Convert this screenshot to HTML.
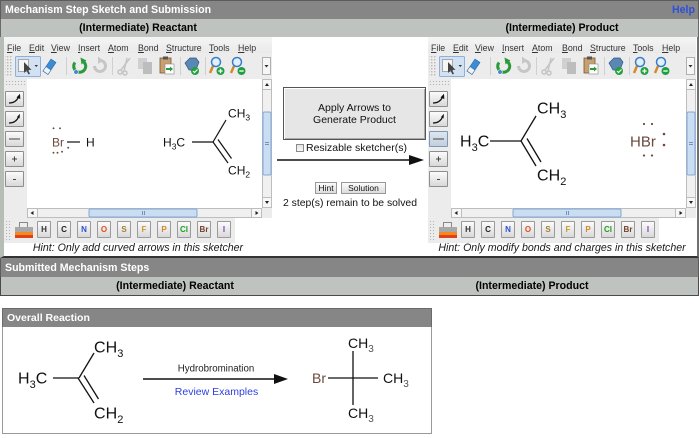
<!DOCTYPE html>
<html><head><meta charset="utf-8">
<style>
*{margin:0;padding:0;box-sizing:border-box}
html,body{width:699px;height:438px;overflow:hidden;background:#fff}
body{position:relative;font-family:"Liberation Sans",Arial,sans-serif}
.a{position:absolute}
.hd{position:absolute;background:#868686;color:#fff;font-weight:bold;font-size:10.6px;line-height:18px;white-space:nowrap;padding-left:4px}
.lr{position:absolute;background:#bec3c0}
.bt{position:absolute;font-weight:bold;font-size:10.6px;line-height:18px;text-align:center;white-space:nowrap;color:#000}
.sk{position:absolute;top:37px;width:268px;height:206px}
.mb{position:absolute;left:0;top:0;width:268px;height:16px;background:linear-gradient(#f5f5f5,#e9e9e9)}
.mb span{position:absolute;top:6px;font-size:8.8px;line-height:10px;color:#333;white-space:nowrap}
.tbb{position:absolute;left:0;top:16px;width:268px;height:26px;background:#ececec}
.lc{position:absolute;left:0;top:42px;width:23px;height:139px;background:#ececec}
.lb{position:absolute;left:1px;width:19px;height:16px;border:1px solid #8e8e8e;background:linear-gradient(#fbfbfb,#d8d8d8);border-radius:1px}
.lb svg{position:absolute;left:0;top:0}
.cv{position:absolute;left:23px;top:42px;width:235px;height:129px;background:#fff}
.cor{position:absolute;left:258px;top:171px;width:10px;height:10px;background:#ececec}
.pal{position:absolute;left:0;top:181px;width:231px;height:25px;background:#ececec}
.grip{position:absolute;background-image:radial-gradient(#b4b4b4 0.7px,transparent 0.8px);background-size:3px 3px}
.pb{position:absolute;top:3px;width:14px;height:17px;border:1px solid #9a9a9a;background:linear-gradient(#fbfbfb,#d9d9d9);font-size:8px;font-weight:bold;text-align:center;line-height:15px;border-radius:1px}
.hint{position:absolute;top:241px;width:268px;text-align:center;font-style:italic;font-size:10.6px;line-height:14px;color:#1a1a1a;white-space:nowrap}
</style></head><body>

<!-- ===== Top panel ===== -->
<div class="a" style="left:0;top:37px;width:699px;height:221px;background:#fff;border-left:4px solid #b5bdb6;border-right:2px solid #707070;border-bottom:2px solid #333"></div>
<div class="hd" style="left:0;top:0;width:699px;height:19px;border:1px solid #5c5c5c;border-bottom:none">Mechanism Step Sketch and Submission</div>
<div class="a" style="left:672px;top:0;line-height:20px;font-size:10.6px;font-weight:bold;color:#2f50d8">Help</div>
<div class="lr" style="left:0;top:19px;width:699px;height:18px;border-left:1px solid #6a6a6a;border-right:1px solid #6a6a6a"></div>
<div class="bt" style="left:4px;top:19px;width:268px">(Intermediate) Reactant</div>
<div class="bt" style="left:428px;top:19px;width:268px">(Intermediate) Product</div>

<svg width="0" height="0" style="position:absolute"><defs>
<pattern id="gp" width="3" height="3" patternUnits="userSpaceOnUse"><rect width="1.4" height="1.4" fill="#b8b8b8"/></pattern>
</defs></svg>

<!-- ===== Left sketcher ===== -->
<div class="sk" style="left:4px">
  <div class="mb">
    <span style="left:3px"><u>F</u>ile</span><span style="left:25px"><u>E</u>dit</span><span style="left:47px"><u>V</u>iew</span><span style="left:74px"><u>I</u>nsert</span><span style="left:104px"><u>A</u>tom</span><span style="left:134px"><u>B</u>ond</span><span style="left:162px"><u>S</u>tructure</span><span style="left:205px"><u>T</u>ools</span><span style="left:234px"><u>H</u>elp</span>
  </div>
  <div class="tbb"></div>
  <svg class="a" style="left:0;top:16px" width="268" height="26">
    <rect x="1" y="2" width="7" height="22" fill="url(#gp)"/>
    <rect x="11.5" y="3.5" width="25" height="20" rx="1" fill="#d3e2f2" stroke="#8eb0d9"/>
    <rect x="14.5" y="6.5" width="10" height="12" fill="#f6f6f6" stroke="#666" stroke-dasharray="1,1"/>
    <path d="M20 9v11l2.5-2.5 2 4 1.5-.8-2-3.8h3.5z" fill="#444"/>
    <path d="M30.5 12h3.5l-1.75 2z" fill="#333"/>
    <path d="M39 18l8-12 5 3.5-8 12z" fill="#3b8cd4" stroke="#2a6aa8" stroke-width=".6"/>
    <path d="M39 18l3-4.5 5 3.5-3 4.5z" fill="#eef3f8" stroke="#2a6aa8" stroke-width=".6"/>
    <line x1="62.5" y1="4" x2="62.5" y2="22" stroke="#d0d0d0"/>
    <path d="M71 9.5 A6 6 0 1 0 79 8.2" fill="none" stroke="#2b9a3b" stroke-width="3"/>
    <path d="M76.5 4.5 L82.5 7.5 L77.5 11.5 Z" fill="#2b9a3b"/>
    <circle cx="72" cy="19" r="2.3" fill="#4a86cf" stroke="#fff" stroke-width=".6"/>
    <path d="M90.5 13 A5.5 5.5 0 1 0 95.5 7.5" fill="none" stroke="#c6c6c6" stroke-width="3"/>
    <path d="M94 3.5 L99 7.5 L94 11 Z" fill="#c6c6c6"/>
    <line x1="108.5" y1="4" x2="108.5" y2="22" stroke="#d0d0d0"/>
    <g stroke="#c4c4c4" stroke-width="1.5" fill="none"><circle cx="116" cy="19" r="2"/><circle cx="121" cy="20" r="2"/><line x1="117" y1="17" x2="126" y2="5"/><line x1="120" y1="18" x2="123" y2="5"/></g>
    <rect x="134" y="5" width="9" height="11" fill="#d0d0d0"/><rect x="139" y="9" width="9" height="12" fill="#bdbdbd"/>
    <rect x="156" y="5" width="11" height="15" fill="#c8a070" stroke="#7a5530" stroke-width=".8"/><rect x="159" y="3.5" width="5" height="3" fill="#555"/>
    <rect x="161" y="11" width="9" height="10" fill="#fff" stroke="#888" stroke-width=".6"/>
    <path d="M162 16h5" stroke="#2a9a3a" stroke-width="2"/><path d="M166 13.5l3 2.5-3 2.5z" fill="#2a9a3a"/>
    <line x1="176.5" y1="4" x2="176.5" y2="22" stroke="#d0d0d0"/>
    <path d="M181 10l5-5h6l3 4-3 8h-7z" fill="#5b87b5" stroke="#2f5a88" stroke-width=".7"/>
    <circle cx="191" cy="18" r="4" fill="#22a13d"/><path d="M189 18l1.5 1.5 3-3" stroke="#fff" stroke-width="1.2" fill="none"/>
    <line x1="201.5" y1="4" x2="201.5" y2="22" stroke="#d0d0d0"/>
    <line x1="209" y1="13" x2="206" y2="20" stroke="#d08a30" stroke-width="2.5"/>
    <circle cx="212" cy="9" r="4.5" fill="#dff0fb" stroke="#3a7bc8" stroke-width="1.5"/>
    <circle cx="216.5" cy="18" r="4" fill="#1fa040"/><path d="M214.3 18h4.4M216.5 15.8v4.4" stroke="#fff" stroke-width="1.3"/>
    <line x1="230" y1="13" x2="227" y2="20" stroke="#d08a30" stroke-width="2.5"/>
    <circle cx="233" cy="9" r="4.5" fill="#dff0fb" stroke="#3a7bc8" stroke-width="1.5"/>
    <circle cx="237.5" cy="18" r="4" fill="#1fa040"/><path d="M235.3 18h4.4" stroke="#fff" stroke-width="1.3"/>
    <rect x="258.5" y="4.5" width="8" height="17" fill="#f6f6f6" stroke="#b0b0b0"/><path d="M260.5 12h4l-2 2.5z" fill="#333"/>
  </svg>
  <div class="lc">
    <div class="grip" style="left:1px;top:1px;width:20px;height:6px"></div>
    <div class="lb" style="top:12px"><svg width="17" height="14"><path d="M3 11 Q10 11 12.5 5" stroke="#111" stroke-width="1.2" fill="none"/><path d="M10.5 5.5L14 1.8 14.3 7z" fill="#111"/></svg></div>
    <div class="lb" style="top:32px"><svg width="17" height="14"><path d="M3 11 Q10 11 12.5 5" stroke="#111" stroke-width="1.2" fill="none"/><path d="M11 5L14 1.8 13.5 6.5z" fill="#111"/></svg></div>
    <div class="lb" style="top:52px"><svg width="17" height="14"><line x1="3" y1="7" x2="14" y2="7" stroke="#444" stroke-width="1"/></svg></div>
    <div class="lb" style="top:72px"><svg width="17" height="14"><path d="M6 7h5M8.5 4.5v5" stroke="#444" stroke-width="1"/></svg></div>
    <div class="lb" style="top:92px"><svg width="17" height="14"><path d="M7 7.5h3" stroke="#444" stroke-width="1"/></svg></div>
  </div>
  <div class="cv"></div>
  <svg class="a" style="left:258px;top:42px" width="10" height="129">
    <rect x=".5" y=".5" width="9" height="128" fill="#f0f0f0" stroke="#bdbdbd"/>
    <rect x=".5" y=".5" width="9" height="10" fill="#f7f7f7" stroke="#bdbdbd"/><path d="M3 7h4l-2-3z" fill="#222"/>
    <rect x=".5" y="118.5" width="9" height="10" fill="#f7f7f7" stroke="#bdbdbd"/><path d="M3 122h4l-2 3z" fill="#222"/>
    <rect x="1" y="33" width="8" height="63" rx="1.5" fill="#c9ddf3" stroke="#85a8d3"/>
    <path d="M3 63.5h4M3 65.5h4" stroke="#6f94c4"/>
  </svg>
  <svg class="a" style="left:23px;top:171px" width="235" height="10">
    <rect x=".5" y=".5" width="234" height="9" fill="#f0f0f0" stroke="#bdbdbd"/>
    <rect x=".5" y=".5" width="10" height="9" fill="#f7f7f7" stroke="#bdbdbd"/><path d="M6.5 3v4l-3-2z" fill="#222"/>
    <rect x="224.5" y=".5" width="10" height="9" fill="#f7f7f7" stroke="#bdbdbd"/><path d="M228.5 3v4l3-2z" fill="#222"/>
    <rect x="62" y="1" width="108" height="8" rx="1.5" fill="#c9ddf3" stroke="#85a8d3"/>
    <path d="M115.5 3v4M117.5 3v4" stroke="#6f94c4"/>
  </svg>
  <div class="cor"></div>
  <div class="pal">
    <div class="grip" style="left:1px;top:2px;width:7px;height:21px"></div>
    <svg class="a" style="left:10px;top:3px" width="21" height="18">
      <rect x="5.5" y="1.5" width="8" height="6" fill="#eee" stroke="#888"/>
      <rect x="1" y="6" width="18" height="5" fill="#a8a8a8"/>
      <rect x="1" y="11" width="18" height="3" fill="#f28a20"/>
      <rect x="1" y="14" width="18" height="3" fill="#e0401c"/>
    </svg>
    <div class="pb" style="left:33px;color:#333">H</div>
    <div class="pb" style="left:53px;color:#222">C</div>
    <div class="pb" style="left:73px;color:#3050d0">N</div>
    <div class="pb" style="left:93px;color:#e05020">O</div>
    <div class="pb" style="left:113px;color:#a08030">S</div>
    <div class="pb" style="left:133px;color:#c89a30">F</div>
    <div class="pb" style="left:153px;color:#d08830">P</div>
    <div class="pb" style="left:173px;color:#20a020">Cl</div>
    <div class="pb" style="left:193px;color:#704030">Br</div>
    <div class="pb" style="left:213px;color:#8040c0">I</div>
  </div>
</div>
<div class="hint" style="left:4px">Hint: Only add curved arrows in this sketcher</div>

<!-- ===== Right sketcher ===== -->
<div class="sk" style="left:428px">
  <div class="mb">
    <span style="left:3px"><u>F</u>ile</span><span style="left:25px"><u>E</u>dit</span><span style="left:47px"><u>V</u>iew</span><span style="left:74px"><u>I</u>nsert</span><span style="left:104px"><u>A</u>tom</span><span style="left:134px"><u>B</u>ond</span><span style="left:162px"><u>S</u>tructure</span><span style="left:205px"><u>T</u>ools</span><span style="left:234px"><u>H</u>elp</span>
  </div>
  <div class="tbb"></div>
  <svg class="a" style="left:0;top:16px" width="268" height="26">
    <rect x="1" y="2" width="7" height="22" fill="url(#gp)"/>
    <rect x="11.5" y="3.5" width="25" height="20" rx="1" fill="#d3e2f2" stroke="#8eb0d9"/>
    <rect x="14.5" y="6.5" width="10" height="12" fill="#f6f6f6" stroke="#666" stroke-dasharray="1,1"/>
    <path d="M20 9v11l2.5-2.5 2 4 1.5-.8-2-3.8h3.5z" fill="#444"/>
    <path d="M30.5 12h3.5l-1.75 2z" fill="#333"/>
    <path d="M39 18l8-12 5 3.5-8 12z" fill="#3b8cd4" stroke="#2a6aa8" stroke-width=".6"/>
    <path d="M39 18l3-4.5 5 3.5-3 4.5z" fill="#eef3f8" stroke="#2a6aa8" stroke-width=".6"/>
    <line x1="62.5" y1="4" x2="62.5" y2="22" stroke="#d0d0d0"/>
    <path d="M71 9.5 A6 6 0 1 0 79 8.2" fill="none" stroke="#2b9a3b" stroke-width="3"/>
    <path d="M76.5 4.5 L82.5 7.5 L77.5 11.5 Z" fill="#2b9a3b"/>
    <circle cx="72" cy="19" r="2.3" fill="#4a86cf" stroke="#fff" stroke-width=".6"/>
    <path d="M90.5 13 A5.5 5.5 0 1 0 95.5 7.5" fill="none" stroke="#c6c6c6" stroke-width="3"/>
    <path d="M94 3.5 L99 7.5 L94 11 Z" fill="#c6c6c6"/>
    <line x1="108.5" y1="4" x2="108.5" y2="22" stroke="#d0d0d0"/>
    <g stroke="#c4c4c4" stroke-width="1.5" fill="none"><circle cx="116" cy="19" r="2"/><circle cx="121" cy="20" r="2"/><line x1="117" y1="17" x2="126" y2="5"/><line x1="120" y1="18" x2="123" y2="5"/></g>
    <rect x="134" y="5" width="9" height="11" fill="#d0d0d0"/><rect x="139" y="9" width="9" height="12" fill="#bdbdbd"/>
    <rect x="156" y="5" width="11" height="15" fill="#c8a070" stroke="#7a5530" stroke-width=".8"/><rect x="159" y="3.5" width="5" height="3" fill="#555"/>
    <rect x="161" y="11" width="9" height="10" fill="#fff" stroke="#888" stroke-width=".6"/>
    <path d="M162 16h5" stroke="#2a9a3a" stroke-width="2"/><path d="M166 13.5l3 2.5-3 2.5z" fill="#2a9a3a"/>
    <line x1="176.5" y1="4" x2="176.5" y2="22" stroke="#d0d0d0"/>
    <path d="M181 10l5-5h6l3 4-3 8h-7z" fill="#5b87b5" stroke="#2f5a88" stroke-width=".7"/>
    <circle cx="191" cy="18" r="4" fill="#22a13d"/><path d="M189 18l1.5 1.5 3-3" stroke="#fff" stroke-width="1.2" fill="none"/>
    <line x1="201.5" y1="4" x2="201.5" y2="22" stroke="#d0d0d0"/>
    <line x1="209" y1="13" x2="206" y2="20" stroke="#d08a30" stroke-width="2.5"/>
    <circle cx="212" cy="9" r="4.5" fill="#dff0fb" stroke="#3a7bc8" stroke-width="1.5"/>
    <circle cx="216.5" cy="18" r="4" fill="#1fa040"/><path d="M214.3 18h4.4M216.5 15.8v4.4" stroke="#fff" stroke-width="1.3"/>
    <line x1="230" y1="13" x2="227" y2="20" stroke="#d08a30" stroke-width="2.5"/>
    <circle cx="233" cy="9" r="4.5" fill="#dff0fb" stroke="#3a7bc8" stroke-width="1.5"/>
    <circle cx="237.5" cy="18" r="4" fill="#1fa040"/><path d="M235.3 18h4.4" stroke="#fff" stroke-width="1.3"/>
    <rect x="258.5" y="4.5" width="8" height="17" fill="#f6f6f6" stroke="#b0b0b0"/><path d="M260.5 12h4l-2 2.5z" fill="#333"/>
  </svg>
  <div class="lc">
    <div class="grip" style="left:1px;top:1px;width:20px;height:6px"></div>
    <div class="lb" style="top:12px"><svg width="17" height="14"><path d="M3 11 Q10 11 12.5 5" stroke="#111" stroke-width="1.2" fill="none"/><path d="M10.5 5.5L14 1.8 14.3 7z" fill="#111"/></svg></div>
    <div class="lb" style="top:32px"><svg width="17" height="14"><path d="M3 11 Q10 11 12.5 5" stroke="#111" stroke-width="1.2" fill="none"/><path d="M11 5L14 1.8 13.5 6.5z" fill="#111"/></svg></div>
    <div class="lb" style="top:52px;background:linear-gradient(#dde6f0,#c3cfdc);border-color:#7f97b5"><svg width="17" height="14"><line x1="3" y1="7" x2="14" y2="7" stroke="#444" stroke-width="1"/></svg></div>
    <div class="lb" style="top:72px"><svg width="17" height="14"><path d="M6 7h5M8.5 4.5v5" stroke="#444" stroke-width="1"/></svg></div>
    <div class="lb" style="top:92px"><svg width="17" height="14"><path d="M7 7.5h3" stroke="#444" stroke-width="1"/></svg></div>
  </div>
  <div class="cv"></div>
  <svg class="a" style="left:258px;top:42px" width="10" height="129">
    <rect x=".5" y=".5" width="9" height="128" fill="#f0f0f0" stroke="#bdbdbd"/>
    <rect x=".5" y=".5" width="9" height="10" fill="#f7f7f7" stroke="#bdbdbd"/><path d="M3 7h4l-2-3z" fill="#222"/>
    <rect x=".5" y="118.5" width="9" height="10" fill="#f7f7f7" stroke="#bdbdbd"/><path d="M3 122h4l-2 3z" fill="#222"/>
    <rect x="1" y="33" width="8" height="63" rx="1.5" fill="#c9ddf3" stroke="#85a8d3"/>
    <path d="M3 63.5h4M3 65.5h4" stroke="#6f94c4"/>
  </svg>
  <svg class="a" style="left:23px;top:171px" width="235" height="10">
    <rect x=".5" y=".5" width="234" height="9" fill="#f0f0f0" stroke="#bdbdbd"/>
    <rect x=".5" y=".5" width="10" height="9" fill="#f7f7f7" stroke="#bdbdbd"/><path d="M6.5 3v4l-3-2z" fill="#222"/>
    <rect x="224.5" y=".5" width="10" height="9" fill="#f7f7f7" stroke="#bdbdbd"/><path d="M228.5 3v4l3-2z" fill="#222"/>
    <rect x="62" y="1" width="108" height="8" rx="1.5" fill="#c9ddf3" stroke="#85a8d3"/>
    <path d="M115.5 3v4M117.5 3v4" stroke="#6f94c4"/>
  </svg>
  <div class="cor"></div>
  <div class="pal">
    <div class="grip" style="left:1px;top:2px;width:7px;height:21px"></div>
    <svg class="a" style="left:10px;top:3px" width="21" height="18">
      <rect x="5.5" y="1.5" width="8" height="6" fill="#eee" stroke="#888"/>
      <rect x="1" y="6" width="18" height="5" fill="#a8a8a8"/>
      <rect x="1" y="11" width="18" height="3" fill="#f28a20"/>
      <rect x="1" y="14" width="18" height="3" fill="#e0401c"/>
    </svg>
    <div class="pb" style="left:33px;color:#333">H</div>
    <div class="pb" style="left:53px;color:#222">C</div>
    <div class="pb" style="left:73px;color:#3050d0">N</div>
    <div class="pb" style="left:93px;color:#e05020">O</div>
    <div class="pb" style="left:113px;color:#a08030">S</div>
    <div class="pb" style="left:133px;color:#c89a30">F</div>
    <div class="pb" style="left:153px;color:#d08830">P</div>
    <div class="pb" style="left:173px;color:#20a020">Cl</div>
    <div class="pb" style="left:193px;color:#704030">Br</div>
    <div class="pb" style="left:213px;color:#8040c0">I</div>
  </div>
</div>
<div class="hint" style="left:428px">Hint: Only modify bonds and charges in this sketcher</div>

<!-- ===== Center controls ===== -->
<div class="a" style="left:283px;top:87px;width:143px;height:53px;border:1px solid #555;box-shadow:inset 1px 1px 0 #fff,inset -1px -1px 0 #aaa;background:#e6e6e6;text-align:center;font-size:10.5px;line-height:12px;padding-top:14px;color:#111">Apply Arrows to<br>Generate Product</div>
<div class="a" style="left:296px;top:144px;width:8px;height:8px;border:1px solid #8a8a8a;background:linear-gradient(#e4e4e4,#f8f8f8)"></div>
<div class="a" style="left:306px;top:141px;font-size:10.5px;line-height:14px;color:#111;white-space:nowrap">Resizable sketcher(s)</div>
<div class="a" style="left:315px;top:182px;width:22px;height:12px;border:1px solid #999;background:linear-gradient(#fafafa,#dcdcdc);font-size:8.5px;line-height:10px;text-align:center;color:#111">Hint</div>
<div class="a" style="left:341px;top:182px;width:45px;height:12px;border:1px solid #999;background:linear-gradient(#fafafa,#dcdcdc);font-size:8.5px;line-height:10px;text-align:center;color:#111">Solution</div>

<!-- ===== Submitted ===== -->
<div class="hd" style="left:0;top:258px;width:699px;height:19px;border-left:1px solid #5c5c5c;border-right:1px solid #5c5c5c;line-height:20px">Submitted Mechanism Steps</div>
<div class="lr" style="left:0;top:277px;width:699px;height:19px;border:1px solid #4a4a4a;border-top:none"></div>
<div class="bt" style="left:25px;top:277px;width:300px">(Intermediate) Reactant</div>
<div class="bt" style="left:382px;top:277px;width:300px">(Intermediate) Product</div>

<!-- ===== Overall reaction ===== -->
<div class="a" style="left:2px;top:308px;width:430px;height:126px;border:1px solid #9a9a9a;background:#fff"></div>
<div class="hd" style="left:2px;top:308px;width:430px;height:19px;border:1px solid #6a6a6a;border-bottom:none;line-height:18px;font-size:10.5px">Overall Reaction</div>

<!-- ===== Overlay drawings ===== -->
<svg class="a" style="left:0;top:0;z-index:10" width="699" height="438" font-family="Liberation Sans, Arial, sans-serif">
  <!-- center and reaction labels -->
  <text x="350" y="205.8" font-size="10.4" fill="#111" text-anchor="middle">2 step(s) remain to be solved</text>
  <text x="216" y="371.5" font-size="9.7" fill="#222" text-anchor="middle">Hydrobromination</text>
  <text x="216.5" y="394.8" font-size="10.5" fill="#2d3fe0" text-anchor="middle">Review Examples</text>

  <!-- Left sketcher: HBr -->
  <text x="52" y="146.3" font-size="12" fill="#6b4a3c">Br</text>
  <g fill="#6b4a3c"><circle cx="53.5" cy="128.3" r=".95"/><circle cx="60" cy="128.3" r=".95"/><circle cx="53.5" cy="152.7" r=".95"/><circle cx="57.5" cy="152.7" r=".95"/><circle cx="62" cy="151.7" r=".95"/><circle cx="68.2" cy="147.7" r=".95"/></g>
  <line x1="67" y1="142" x2="80" y2="142" stroke="#111" stroke-width="1.2"/>
  <text x="86" y="146.3" font-size="12" fill="#111">H</text>
  <!-- Left sketcher: isobutylene -->
  <g fill="#111" font-size="12">
    <text x="163" y="146.3">H</text><text x="171.7" y="149.5" font-size="8.5">3</text><text x="176.4" y="146.3">C</text>
    <text x="228" y="117.3">C</text><text x="236.7" y="117.3">H</text><text x="245.4" y="120.5" font-size="8.5">3</text>
    <text x="228" y="174.3">C</text><text x="236.7" y="174.3">H</text><text x="245.4" y="177.5" font-size="8.5">2</text>
  </g>
  <g stroke="#111" stroke-width="1.2">
    <line x1="192" y1="142" x2="213" y2="142"/>
    <line x1="213" y1="142" x2="226" y2="120"/>
    <line x1="213" y1="142" x2="228" y2="163"/>
    <line x1="218" y1="139.5" x2="231.5" y2="158.5"/>
  </g>
  <!-- Right sketcher: isobutylene -->
  <g fill="#111" font-size="16">
    <text x="460" y="146.7">H</text><text x="471.6" y="151" font-size="11">3</text><text x="477.7" y="146.7">C</text>
    <text x="537" y="113.7">C</text><text x="548.6" y="113.7">H</text><text x="560.2" y="118" font-size="11">3</text>
    <text x="537" y="180.7">C</text><text x="548.6" y="180.7">H</text><text x="560.2" y="185" font-size="11">2</text>
  </g>
  <g stroke="#111" stroke-width="1.3">
    <line x1="490" y1="141" x2="521" y2="141"/>
    <line x1="521" y1="141" x2="536" y2="116"/>
    <line x1="521" y1="141" x2="536" y2="166"/>
    <line x1="527" y1="138.5" x2="541" y2="162"/>
  </g>
  <!-- Right sketcher: HBr -->
  <text x="630" y="146.4" font-size="15" fill="#6b4a3c">HBr</text>
  <g fill="#6b4a3c"><circle cx="644" cy="124" r="1.1"/><circle cx="652" cy="124" r="1.1"/><circle cx="644" cy="155.5" r="1.1"/><circle cx="652" cy="155.5" r="1.1"/><circle cx="664" cy="134" r="1.3"/><circle cx="664" cy="145" r="1.3"/></g>
  <!-- Center arrow -->
  <line x1="277" y1="160" x2="412" y2="160" stroke="#111" stroke-width="1.5"/>
  <path d="M409 155 L424 160 L409 165 Z" fill="#111"/>

  <!-- Overall reaction: reactant -->
  <g fill="#111" font-size="16">
    <text x="18" y="383.7">H</text><text x="29.6" y="388" font-size="11">3</text><text x="35.7" y="383.7">C</text>
    <text x="94" y="352.7">C</text><text x="105.6" y="352.7">H</text><text x="117.2" y="357" font-size="11">3</text>
    <text x="94" y="418.7">C</text><text x="105.6" y="418.7">H</text><text x="117.2" y="423" font-size="11">2</text>
  </g>
  <g stroke="#111" stroke-width="1.3">
    <line x1="53" y1="378" x2="79" y2="378"/>
    <line x1="79" y1="378" x2="94" y2="353"/>
    <line x1="78" y1="378" x2="94" y2="403"/>
    <line x1="84" y1="375.5" x2="98.5" y2="399"/>
  </g>
  <!-- Overall arrow -->
  <line x1="143" y1="379" x2="277" y2="379" stroke="#111" stroke-width="1.5"/>
  <path d="M274 374 L288 379 L274 384 Z" fill="#111"/>
  <!-- Product -->
  <text x="312" y="383" font-size="14" fill="#6b4a3c">Br</text>
  <g stroke="#111" stroke-width="1.3">
    <line x1="328" y1="378" x2="378" y2="378"/>
    <line x1="353" y1="351" x2="353" y2="405"/>
  </g>
  <g fill="#111" font-size="14">
    <text x="348" y="348">C</text><text x="358.1" y="348">H</text><text x="368.2" y="352" font-size="10" fill="#555">3</text>
    <text x="383" y="383">C</text><text x="393.1" y="383">H</text><text x="403.2" y="387" font-size="10" fill="#555">3</text>
    <text x="348" y="418">C</text><text x="358.1" y="418">H</text><text x="368.2" y="422" font-size="10" fill="#555">3</text>
  </g>
</svg>
</body></html>
